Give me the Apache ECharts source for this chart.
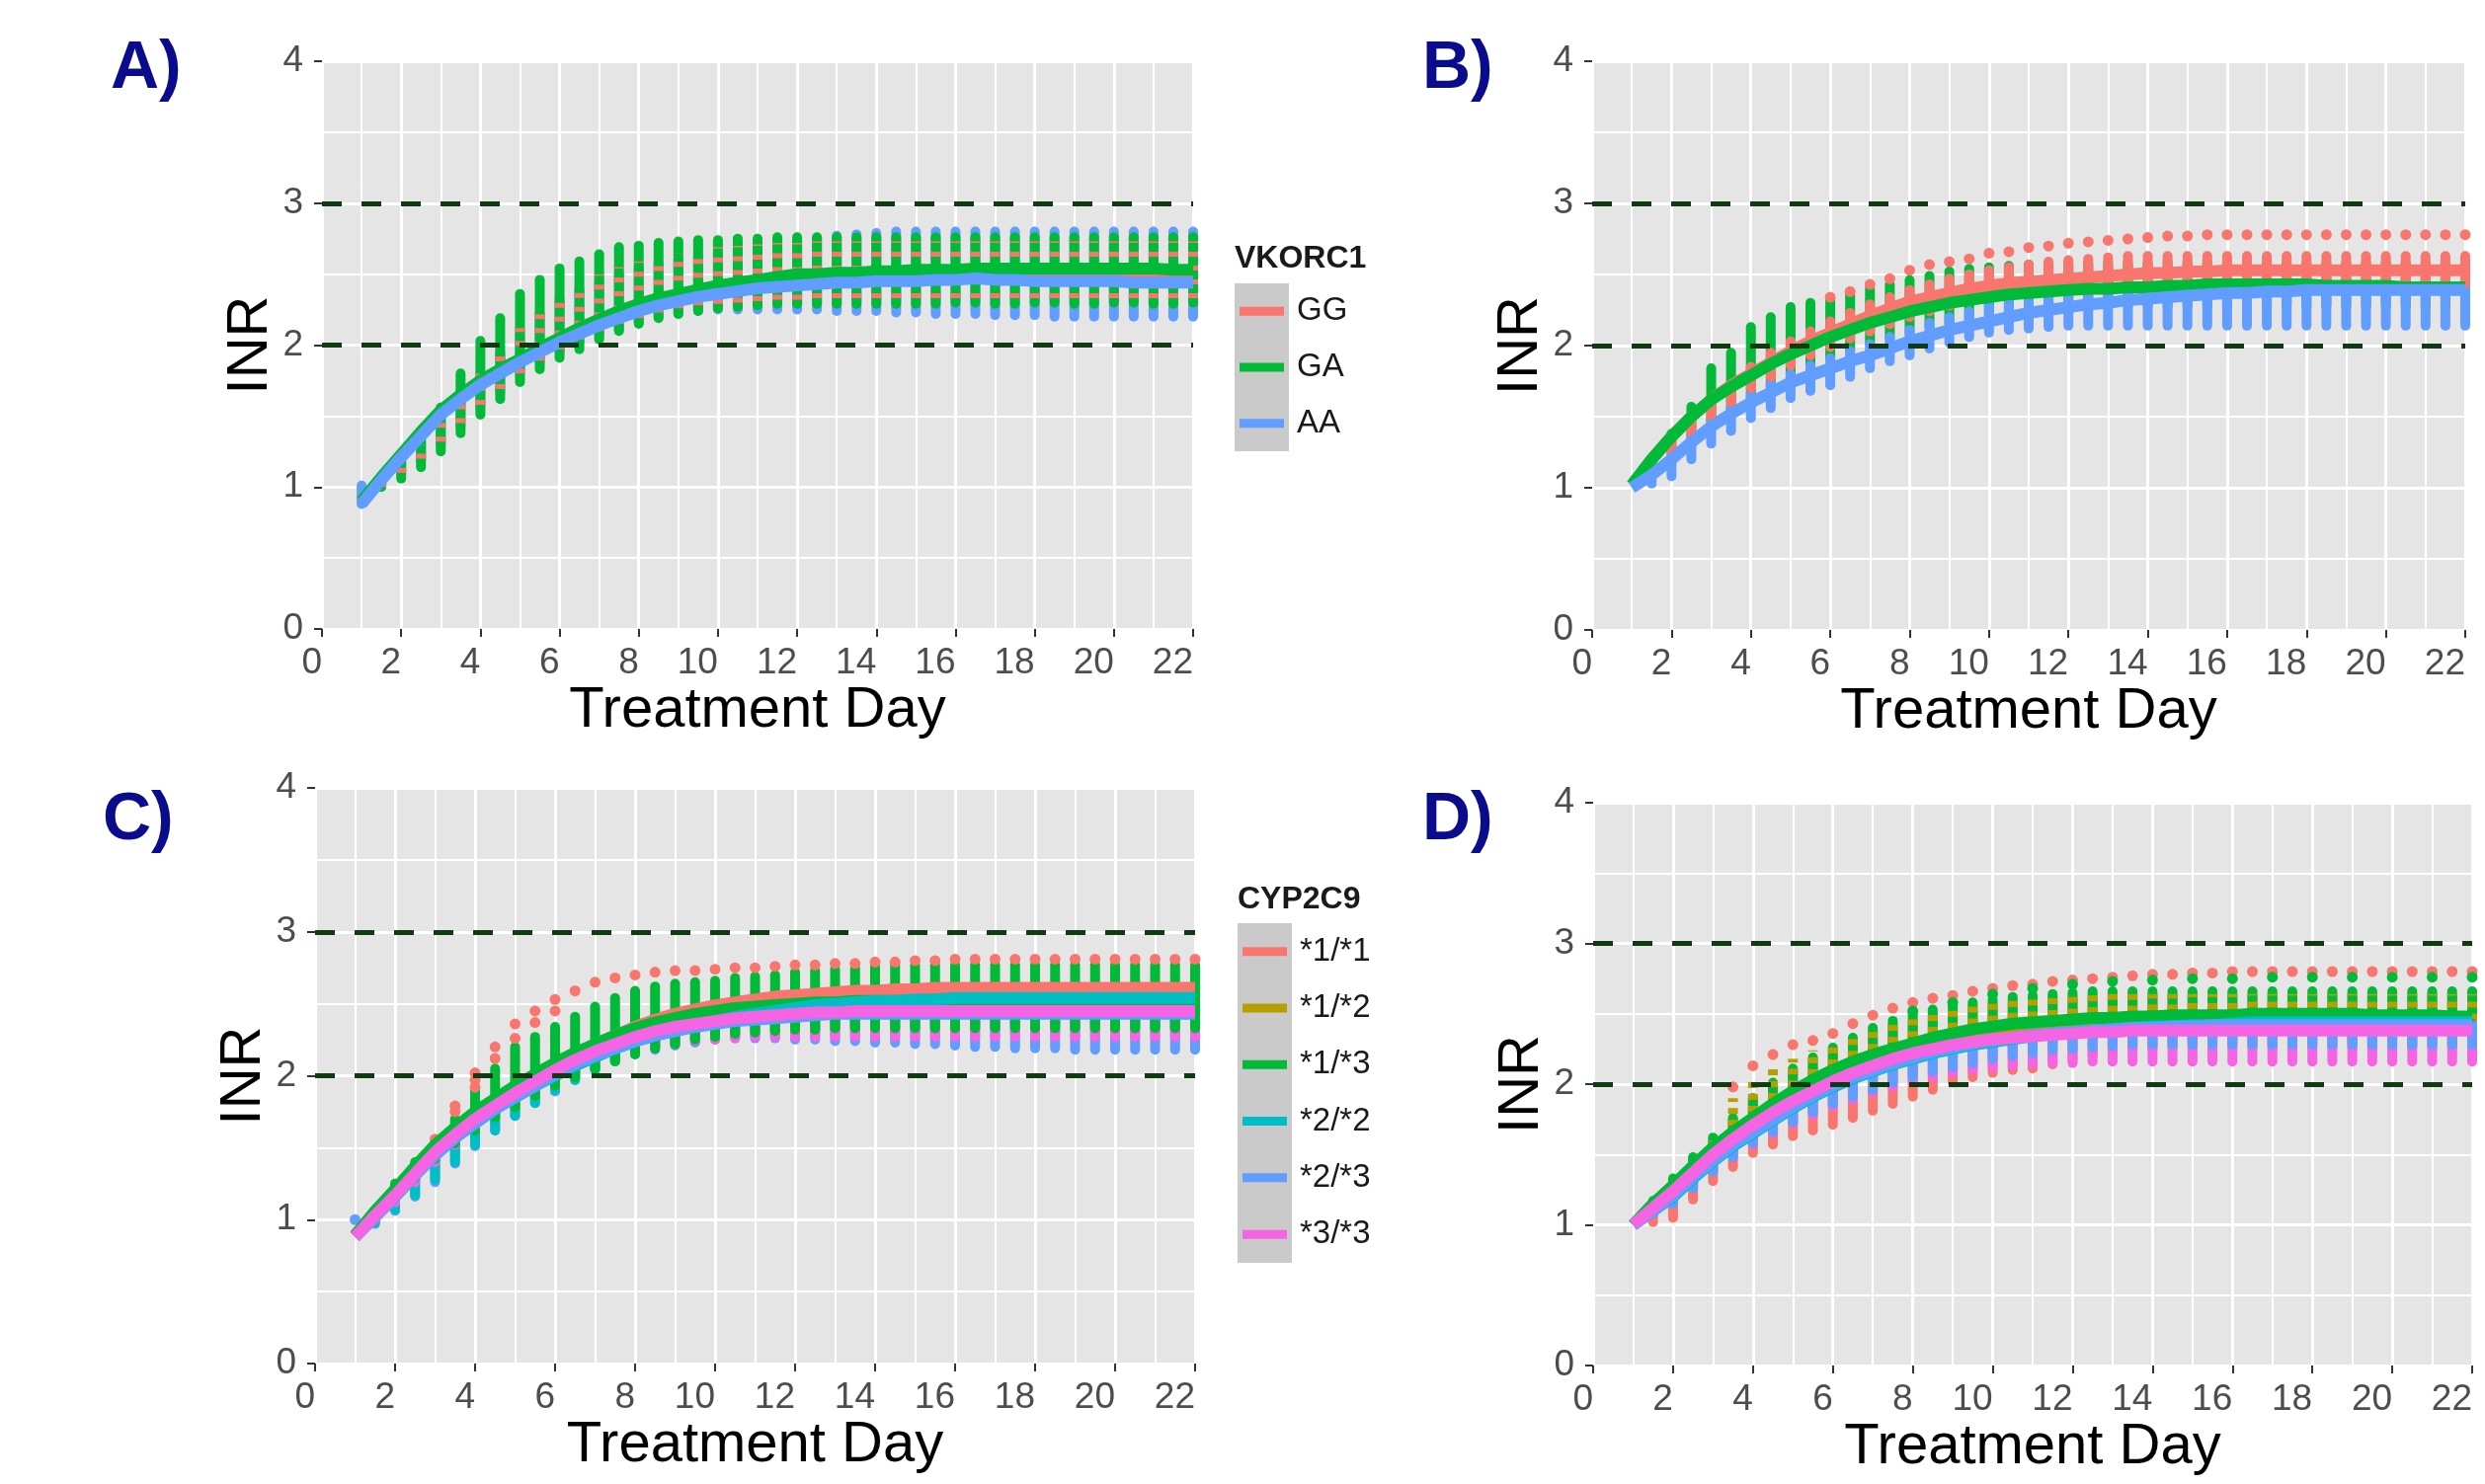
<!DOCTYPE html>
<html>
<head>
<meta charset="utf-8">
<title>Simulated INR by genotype</title>
<script src="https://cdn.jsdelivr.net/npm/echarts@6/dist/echarts.min.js"></script>
<style>
  html, body { margin: 0; padding: 0; background: #fff; }
  #chart { width: 2516px; height: 1503px; }
</style>
</head>
<body>
<div id="chart"></div>
<script>
// simulation time points (every half day)
const halfDays = [1,1.5,2,2.5,3,3.5,4,4.5,5,5.5,6,6.5,7,7.5,8,8.5,9,9.5,10,10.5,
  11,11.5,12,12.5,13,13.5,14,14.5,15,15.5,16,16.5,17,17.5,18,18.5,19,19.5,20,20.5,21,21.5,22];
const targetRange = [2, 3];

const vkNames = ['GG', 'GA', 'AA'];
const cypNames = ['*1/*1', '*1/*2', '*1/*3', '*2/*2', '*2/*3', '*3/*3'];
const vkColors = ['#F8766D', '#00BA38', '#619CFF'];
const cypColors = ['#F8766D', '#B79F00', '#00BA38', '#00BFC4', '#619CFF', '#F564E3'];

// ---- panel A : VKORC1, mean INR ----
const inrA_GG = [0.89,1.06,1.22,1.37,1.52,1.64,1.74,1.82,1.89,1.97,
  2.04,2.10,2.16,2.21,2.26,2.30,2.34,2.37,2.40,2.42,
  2.44,2.46,2.47,2.48,2.49,2.49,2.50,2.50,2.50,2.51,
  2.51,2.51,2.51,2.51,2.51,2.51,2.51,2.50,2.50,2.50,
  2.50,2.50,2.50];
const inrA_GA = [0.90,1.07,1.23,1.39,1.54,1.65,1.75,1.83,1.90,1.98,
  2.05,2.12,2.18,2.24,2.29,2.33,2.36,2.39,2.42,2.44,
  2.46,2.48,2.50,2.50,2.51,2.51,2.52,2.52,2.53,2.53,
  2.53,2.54,2.54,2.54,2.54,2.54,2.54,2.54,2.54,2.54,
  2.54,2.53,2.53];
const inrA_AA = [0.88,1.05,1.21,1.36,1.51,1.62,1.72,1.80,1.88,1.95,
  2.02,2.08,2.14,2.19,2.24,2.28,2.31,2.34,2.36,2.38,
  2.40,2.41,2.42,2.43,2.44,2.44,2.45,2.45,2.45,2.46,
  2.46,2.47,2.46,2.46,2.45,2.45,2.45,2.45,2.45,2.44,
  2.44,2.44,2.44];
// panel A : spread of simulated patients
const hiA_GG = [0.89,1.02,1.15,1.30,1.45,1.62,1.80,1.98,2.12,2.25,
  2.35,2.43,2.50,2.55,2.59,2.62,2.65,2.67,2.69,2.70,
  2.71,2.72,2.72,2.73,2.73,2.73,2.73,2.73,2.73,2.73,
  2.73,2.73,2.73,2.73,2.73,2.73,2.73,2.73,2.73,2.73,
  2.73,2.73,2.73];
const loA_GG = [0.89,1.00,1.10,1.20,1.32,1.45,1.58,1.69,1.80,1.89,
  1.97,2.04,2.10,2.15,2.19,2.23,2.26,2.28,2.29,2.30,
  2.31,2.32,2.32,2.33,2.33,2.33,2.33,2.33,2.33,2.33,
  2.33,2.33,2.33,2.33,2.33,2.33,2.33,2.33,2.33,2.33,
  2.33,2.33,2.33];
const hiA_GA = [0.90,1.05,1.22,1.38,1.56,1.80,2.03,2.19,2.36,2.46,
  2.54,2.59,2.64,2.69,2.70,2.72,2.73,2.74,2.74,2.75,
  2.75,2.76,2.76,2.76,2.76,2.76,2.76,2.76,2.76,2.76,
  2.76,2.76,2.76,2.76,2.76,2.76,2.76,2.76,2.76,2.76,
  2.76,2.76,2.76];
const loA_GA = [0.90,1.00,1.06,1.14,1.25,1.38,1.51,1.62,1.74,1.83,
  1.91,1.97,2.04,2.10,2.15,2.19,2.22,2.24,2.26,2.27,
  2.28,2.29,2.29,2.29,2.29,2.29,2.29,2.29,2.29,2.29,
  2.30,2.30,2.29,2.29,2.30,2.30,2.29,2.29,2.30,2.30,
  2.29,2.29,2.30];
const hiA_AA = [1.01,1.05,1.18,1.32,1.48,1.62,1.80,1.95,2.10,2.22,
  2.32,2.40,2.46,2.51,2.55,2.58,2.61,2.63,2.65,2.67,
  2.69,2.71,2.73,2.75,2.77,2.78,2.79,2.80,2.80,2.80,
  2.80,2.80,2.80,2.80,2.80,2.80,2.80,2.80,2.80,2.80,
  2.80,2.80,2.80];
const loA_AA = [0.88,1.02,1.10,1.19,1.30,1.43,1.56,1.67,1.79,1.88,
  1.96,2.02,2.07,2.11,2.16,2.20,2.22,2.24,2.25,2.25,
  2.25,2.25,2.25,2.25,2.24,2.24,2.24,2.23,2.23,2.22,
  2.22,2.22,2.21,2.21,2.21,2.20,2.20,2.20,2.20,2.20,
  2.20,2.20,2.20];

// ---- panel B : VKORC1 ----
const inrB_GG = [1.02,1.20,1.36,1.50,1.62,1.72,1.80,1.88,1.96,2.03,
  2.09,2.15,2.21,2.26,2.31,2.34,2.37,2.40,2.42,2.44,
  2.45,2.46,2.47,2.48,2.49,2.50,2.51,2.51,2.52,2.52,
  2.53,2.53,2.53,2.53,2.53,2.53,2.53,2.53,2.53,2.53,
  2.53,2.53,2.53];
const inrB_GA = [1.02,1.20,1.36,1.50,1.62,1.71,1.79,1.87,1.94,2.00,
  2.06,2.11,2.16,2.20,2.24,2.27,2.30,2.32,2.34,2.36,
  2.37,2.38,2.39,2.40,2.40,2.41,2.41,2.42,2.42,2.43,
  2.43,2.43,2.43,2.43,2.43,2.42,2.42,2.42,2.42,2.41,
  2.41,2.41,2.41];
const inrB_AA = [1.00,1.09,1.20,1.32,1.43,1.52,1.60,1.67,1.74,1.79,
  1.84,1.89,1.93,1.98,2.03,2.07,2.11,2.14,2.17,2.20,
  2.23,2.25,2.27,2.29,2.30,2.32,2.33,2.34,2.35,2.36,
  2.37,2.37,2.38,2.38,2.39,2.39,2.39,2.39,2.39,2.39,
  2.39,2.39,2.39];
const hiB_GG = [1.02,1.18,1.33,1.45,1.58,1.72,1.85,1.95,2.03,2.10,
  2.17,2.23,2.29,2.34,2.39,2.43,2.47,2.50,2.53,2.55,
  2.57,2.59,2.60,2.61,2.62,2.63,2.63,2.63,2.63,2.63,
  2.63,2.63,2.63,2.63,2.63,2.63,2.63,2.63,2.63,2.63,
  2.63,2.63,2.63];
const loB_GG = [1.02,1.12,1.25,1.38,1.50,1.60,1.70,1.78,1.86,1.93,
  1.99,2.05,2.10,2.15,2.20,2.24,2.28,2.31,2.34,2.36,
  2.38,2.40,2.41,2.42,2.43,2.44,2.44,2.44,2.44,2.44,
  2.44,2.44,2.44,2.44,2.44,2.44,2.44,2.44,2.44,2.44,
  2.44,2.44,2.44];
const hiB_GA = [1.02,1.20,1.38,1.57,1.84,1.95,2.13,2.20,2.27,2.30,
  2.33,2.36,2.40,2.43,2.46,2.49,2.52,2.54,2.55,2.56,
  2.57,2.57,2.58,2.58,2.58,2.58,2.58,2.58,2.58,2.58,
  2.58,2.58,2.58,2.58,2.58,2.58,2.58,2.58,2.58,2.58,
  2.58,2.58,2.58];
const loB_GA = [1.02,1.12,1.25,1.36,1.46,1.55,1.63,1.71,1.78,1.85,
  1.91,1.96,2.01,2.05,2.09,2.13,2.16,2.19,2.21,2.23,
  2.25,2.26,2.27,2.28,2.28,2.28,2.28,2.28,2.28,2.28,
  2.28,2.28,2.28,2.28,2.28,2.28,2.28,2.28,2.28,2.28,
  2.28,2.28,2.28];
const hiB_AA = [1.00,1.10,1.24,1.37,1.48,1.57,1.66,1.74,1.80,1.86,
  1.91,1.96,2.01,2.06,2.11,2.16,2.20,2.24,2.28,2.31,
  2.34,2.36,2.38,2.40,2.42,2.43,2.44,2.45,2.46,2.47,
  2.47,2.47,2.47,2.47,2.47,2.47,2.47,2.47,2.47,2.47,
  2.47,2.47,2.47];
const loB_AA = [1.00,1.03,1.08,1.20,1.31,1.40,1.49,1.56,1.63,1.68,
  1.72,1.78,1.84,1.89,1.93,1.98,2.02,2.06,2.09,2.11,
  2.12,2.13,2.14,2.14,2.14,2.14,2.14,2.14,2.14,2.14,
  2.14,2.14,2.14,2.14,2.14,2.14,2.14,2.14,2.14,2.14,
  2.14,2.14,2.14];
const outB_GG = [[6,2.34],[6.5,2.38],[7,2.43],[7.5,2.47],[8,2.53],[8.5,2.57],[9,2.59],[9.5,2.61],
  [10,2.65],[10.5,2.66],[11,2.69],[11.5,2.70],[12,2.72],[12.5,2.73],[13,2.74],[13.5,2.75],
  [14,2.76],[14.5,2.77],[15,2.77],[15.5,2.78],[16,2.78],[16.5,2.78],[17,2.78],[17.5,2.78],
  [18,2.78],[18.5,2.78],[19,2.78],[19.5,2.78],[20,2.78],[20.5,2.78],[21,2.78],[21.5,2.78],[22,2.78]];

// ---- panel C : CYP2C9 ----
const inrC_11 = [0.89,1.05,1.20,1.36,1.51,1.63,1.74,1.84,1.92,2.00,
  2.08,2.15,2.22,2.28,2.34,2.39,2.43,2.46,2.49,2.51,
  2.53,2.55,2.56,2.57,2.58,2.59,2.59,2.60,2.60,2.61,
  2.61,2.61,2.61,2.61,2.61,2.61,2.61,2.61,2.61,2.61,
  2.61,2.61,2.61];
const inrC_12 = [0.89,1.05,1.20,1.35,1.50,1.62,1.73,1.82,1.91,1.99,
  2.07,2.14,2.20,2.25,2.30,2.34,2.37,2.40,2.42,2.44,
  2.46,2.47,2.48,2.49,2.49,2.50,2.50,2.50,2.50,2.50,
  2.50,2.50,2.50,2.50,2.50,2.50,2.50,2.50,2.50,2.50,
  2.50,2.50,2.50];
const inrC_13 = [0.89,1.06,1.21,1.37,1.52,1.64,1.75,1.84,1.93,2.01,
  2.09,2.16,2.22,2.28,2.33,2.37,2.40,2.43,2.45,2.47,
  2.48,2.49,2.50,2.51,2.51,2.52,2.52,2.52,2.52,2.52,
  2.52,2.52,2.52,2.52,2.52,2.52,2.52,2.52,2.52,2.52,
  2.52,2.52,2.52];
const inrC_22 = [0.88,1.02,1.16,1.31,1.45,1.57,1.67,1.77,1.85,1.93,
  2.00,2.07,2.13,2.19,2.24,2.28,2.32,2.35,2.38,2.41,
  2.43,2.45,2.47,2.49,2.50,2.51,2.52,2.52,2.53,2.53,
  2.54,2.54,2.54,2.54,2.54,2.54,2.54,2.54,2.54,2.54,
  2.54,2.54,2.54];
const inrC_23 = [0.88,1.02,1.16,1.31,1.45,1.57,1.67,1.77,1.85,1.93,
  2.01,2.08,2.14,2.19,2.24,2.28,2.31,2.34,2.36,2.38,
  2.39,2.40,2.41,2.42,2.43,2.43,2.43,2.43,2.43,2.43,
  2.43,2.43,2.43,2.43,2.43,2.43,2.43,2.43,2.43,2.43,
  2.43,2.43,2.43];
const inrC_33 = [0.88,1.03,1.17,1.32,1.47,1.59,1.70,1.79,1.88,1.96,
  2.04,2.11,2.17,2.22,2.27,2.31,2.34,2.36,2.38,2.40,
  2.41,2.42,2.43,2.44,2.44,2.45,2.45,2.45,2.45,2.45,
  2.45,2.45,2.45,2.45,2.45,2.45,2.45,2.45,2.45,2.45,
  2.45,2.45,2.45];
const hiC_13 = [0.89,1.06,1.25,1.40,1.52,1.70,1.90,2.05,2.20,2.27,
  2.34,2.41,2.48,2.54,2.59,2.62,2.64,2.65,2.66,2.68,
  2.69,2.70,2.72,2.73,2.74,2.75,2.76,2.77,2.77,2.77,
  2.77,2.77,2.77,2.77,2.77,2.77,2.77,2.77,2.77,2.77,
  2.77,2.77,2.77];
const loC_13 = [0.89,1.02,1.15,1.29,1.42,1.53,1.62,1.71,1.78,1.86,
  1.93,1.99,2.05,2.10,2.15,2.19,2.22,2.25,2.27,2.29,
  2.30,2.31,2.32,2.32,2.33,2.33,2.33,2.33,2.33,2.33,
  2.33,2.33,2.33,2.33,2.33,2.33,2.33,2.33,2.33,2.33,
  2.33,2.33,2.33];
const loC_22 = [0.88,0.98,1.07,1.17,1.28,1.40,1.52,1.62,1.72,1.81,
  1.90,1.97,2.04,2.10,2.15,2.19,2.22,2.25,2.27,2.29,
  2.30,2.31,2.32,2.32,2.33,2.34,2.34,2.34,2.34,2.34,
  2.34,2.34,2.34,2.34,2.34,2.34,2.34,2.34,2.34,2.34,
  2.34,2.34,2.34];
const loC_23 = [0.88,0.97,1.06,1.16,1.26,1.39,1.51,1.62,1.72,1.81,
  1.89,1.97,2.04,2.10,2.15,2.18,2.21,2.23,2.25,2.26,
  2.26,2.26,2.25,2.25,2.24,2.24,2.23,2.23,2.22,2.22,
  2.21,2.20,2.20,2.19,2.19,2.19,2.18,2.18,2.18,2.18,
  2.18,2.18,2.18];
const loC_33 = [0.88,1.00,1.12,1.26,1.40,1.52,1.63,1.72,1.81,1.89,
  1.96,2.03,2.08,2.13,2.17,2.20,2.22,2.24,2.25,2.26,
  2.27,2.27,2.27,2.27,2.27,2.27,2.27,2.27,2.27,2.27,
  2.27,2.27,2.27,2.27,2.27,2.27,2.27,2.27,2.27,2.27,
  2.27,2.27,2.27];
const outC_11 = [[3,1.56],[3.5,1.79],[3.5,1.75],[4,2.02],[4,1.97],[4,1.92],[4.5,2.20],[4.5,2.12],
  [5,2.36],[5,2.26],[5.5,2.45],[5.5,2.37],[6,2.53],[6,2.45],[6.5,2.59],[7,2.65],[7.5,2.68],
  [8,2.70],[8.5,2.72],[9,2.73],[9.5,2.73],[10,2.74],[10.5,2.75],[11,2.75],[11.5,2.76],
  [12,2.77],[12.5,2.77],[13,2.78],[13.5,2.78],[14,2.79],[14.5,2.79],[15,2.80],[15.5,2.80],
  [16,2.81],[16.5,2.81],[17,2.81],[17.5,2.81],[18,2.81],[18.5,2.81],[19,2.81],[19.5,2.81],
  [20,2.81],[20.5,2.81],[21,2.81],[21.5,2.81],[22,2.81]];
const outC_23 = [[1,1.00]];

// ---- panel D : CYP2C9 ----
const inrD_11 = [1.00,1.12,1.23,1.36,1.48,1.59,1.69,1.78,1.86,1.94,
  2.01,2.07,2.13,2.18,2.23,2.27,2.30,2.33,2.35,2.37,
  2.38,2.39,2.40,2.41,2.42,2.42,2.43,2.43,2.44,2.44,
  2.44,2.45,2.45,2.45,2.45,2.45,2.45,2.45,2.45,2.45,
  2.45,2.45,2.45];
const inrD_12 = [1.00,1.13,1.25,1.38,1.51,1.62,1.72,1.81,1.90,1.98,
  2.05,2.11,2.16,2.21,2.25,2.28,2.31,2.34,2.36,2.38,
  2.39,2.40,2.41,2.42,2.43,2.43,2.44,2.44,2.45,2.45,
  2.45,2.46,2.46,2.46,2.46,2.46,2.46,2.46,2.46,2.46,
  2.46,2.46,2.46];
const inrD_13 = [1.00,1.15,1.28,1.42,1.55,1.66,1.76,1.86,1.95,2.03,
  2.10,2.16,2.21,2.25,2.29,2.33,2.36,2.39,2.41,2.43,
  2.44,2.45,2.46,2.47,2.47,2.48,2.48,2.49,2.49,2.49,
  2.49,2.50,2.50,2.50,2.50,2.50,2.50,2.49,2.49,2.49,
  2.49,2.48,2.48];
const inrD_22 = [1.00,1.10,1.20,1.33,1.45,1.56,1.65,1.74,1.83,1.91,
  1.98,2.04,2.09,2.14,2.18,2.22,2.25,2.28,2.30,2.32,
  2.34,2.36,2.37,2.38,2.39,2.40,2.41,2.41,2.42,2.42,
  2.43,2.44,2.44,2.44,2.44,2.44,2.44,2.44,2.44,2.44,
  2.44,2.44,2.44];
const inrD_23 = [1.00,1.10,1.21,1.34,1.46,1.57,1.66,1.75,1.84,1.92,
  1.99,2.05,2.10,2.15,2.19,2.23,2.26,2.29,2.31,2.33,
  2.35,2.36,2.37,2.38,2.39,2.40,2.40,2.41,2.41,2.42,
  2.42,2.42,2.42,2.42,2.42,2.42,2.42,2.42,2.42,2.42,
  2.42,2.42,2.42];
const inrD_33 = [1.00,1.12,1.24,1.37,1.50,1.61,1.71,1.80,1.88,1.95,
  2.02,2.08,2.13,2.18,2.22,2.25,2.28,2.30,2.32,2.33,
  2.34,2.35,2.36,2.37,2.37,2.38,2.38,2.38,2.38,2.38,
  2.38,2.38,2.38,2.38,2.38,2.38,2.38,2.38,2.38,2.38,
  2.38,2.38,2.38];
const hiD_11 = [1.00,1.15,1.30,1.45,1.58,1.75,1.90,2.00,2.08,2.14,
  2.20,2.26,2.32,2.37,2.41,2.45,2.48,2.51,2.53,2.55,
  2.57,2.58,2.59,2.60,2.61,2.62,2.63,2.63,2.63,2.63,
  2.63,2.63,2.63,2.63,2.63,2.63,2.63,2.63,2.63,2.63,
  2.63,2.63,2.63];
const loD_11 = [1.00,1.02,1.05,1.18,1.31,1.41,1.51,1.57,1.63,1.67,
  1.71,1.76,1.81,1.86,1.91,1.96,2.01,2.05,2.08,2.10,
  2.11,2.14,2.17,2.20,2.22,2.24,2.25,2.26,2.26,2.26,
  2.26,2.26,2.26,2.26,2.26,2.26,2.26,2.26,2.26,2.26,
  2.26,2.26,2.26];
const hiD_12 = [1.00,1.15,1.30,1.46,1.60,1.90,2.05,2.12,2.18,2.24,
  2.29,2.34,2.39,2.44,2.48,2.51,2.54,2.56,2.58,2.60,
  2.61,2.62,2.63,2.64,2.64,2.64,2.64,2.64,2.64,2.64,
  2.64,2.64,2.64,2.64,2.64,2.64,2.64,2.64,2.64,2.64,
  2.64,2.64,2.64];
const hiD_13 = [1.00,1.17,1.33,1.48,1.62,1.76,1.90,2.01,2.11,2.19,
  2.26,2.33,2.40,2.45,2.50,2.53,2.56,2.58,2.60,2.62,
  2.63,2.64,2.65,2.66,2.66,2.66,2.66,2.66,2.66,2.66,
  2.66,2.66,2.66,2.66,2.66,2.66,2.66,2.66,2.66,2.66,
  2.66,2.66,2.66];
const loD_23 = [1.00,1.08,1.15,1.26,1.38,1.48,1.58,1.66,1.73,1.80,
  1.86,1.91,1.96,2.01,2.05,2.09,2.12,2.15,2.18,2.20,
  2.22,2.24,2.25,2.26,2.27,2.28,2.28,2.28,2.28,2.28,
  2.28,2.28,2.28,2.28,2.28,2.28,2.28,2.28,2.28,2.28,
  2.28,2.28,2.28];
const loD_33 = [1.00,1.08,1.16,1.27,1.38,1.48,1.57,1.65,1.72,1.78,
  1.84,1.89,1.94,1.98,2.02,2.05,2.08,2.10,2.12,2.13,
  2.14,2.15,2.15,2.16,2.16,2.16,2.16,2.16,2.16,2.16,
  2.16,2.16,2.16,2.16,2.16,2.16,2.16,2.16,2.16,2.16,
  2.16,2.16,2.16];
const outD_11 = [[3,1.56],[3.5,1.98],[4,2.13],[4.5,2.21],[5,2.28],[5.5,2.31],[6,2.36],[6.5,2.43],
  [7,2.49],[7.5,2.54],[8,2.58],[8.5,2.61],[9,2.63],[9.5,2.66],[10,2.68],[10.5,2.70],[11,2.71],
  [11.5,2.73],[12,2.74],[12.5,2.75],[13,2.76],[13.5,2.77],[14,2.78],[14.5,2.78],[15,2.79],
  [15.5,2.79],[16,2.80],[16.5,2.80],[17,2.80],[17.5,2.80],[18,2.80],[18.5,2.80],[19,2.80],
  [19.5,2.80],[20,2.80],[20.5,2.80],[21,2.80],[21.5,2.80],[22,2.80]];
const outD_13 = [[8,2.52],[9,2.58],[10,2.64],[11,2.68],[12,2.71],[13,2.73],[14,2.74],[15,2.75],
  [16,2.75],[17,2.76],[18,2.76],[19,2.76],[20,2.76],[21,2.76],[22,2.76]];

// panel set-up: which group draws which column, in drawing order
const panels = [
  { label: 'A)', names: vkNames, colors: vkColors, lines: [inrA_GG, inrA_GA, inrA_AA],
    grid: { left: 326, top: 62, width: 882, height: 575 }, labelPos: [112, 36],
    cols: [{ g: 2, lo: loA_AA, hi: hiA_AA }, { g: 1, lo: loA_GA, hi: hiA_GA },
           { g: 0, lo: loA_GG, hi: hiA_GG, dash: [5, 9] }],
    outs: [] },
  { label: 'B)', names: vkNames, colors: vkColors, lines: [inrB_GG, inrB_GA, inrB_AA],
    grid: { left: 1612, top: 62, width: 884, height: 576 }, labelPos: [1440, 36],
    cols: [{ g: 1, lo: loB_GA, hi: hiB_GA }, { g: 2, lo: loB_AA, hi: hiB_AA },
           { g: 0, lo: loB_GG, hi: hiB_GG }],
    outs: [{ g: 0, pts: outB_GG }] },
  { label: 'C)', names: cypNames, colors: cypColors,
    lines: [inrC_11, inrC_12, inrC_13, inrC_22, inrC_23, inrC_33],
    grid: { left: 319, top: 798, width: 891, height: 583 }, labelPos: [104, 797],
    cols: [{ g: 4, lo: loC_23, hi: inrC_23 }, { g: 3, lo: loC_22, hi: inrC_22 },
           { g: 5, lo: loC_33, hi: inrC_33 }, { g: 2, lo: loC_13, hi: hiC_13 }],
    outs: [{ g: 0, pts: outC_11 }, { g: 4, pts: outC_23 }] },
  { label: 'D)', names: cypNames, colors: cypColors,
    lines: [inrD_11, inrD_12, inrD_13, inrD_22, inrD_23, inrD_33],
    grid: { left: 1613, top: 813, width: 890, height: 570 }, labelPos: [1440, 797],
    cols: [{ g: 0, lo: loD_11, hi: hiD_11 }, { g: 5, lo: loD_33, hi: inrD_33 },
           { g: 4, lo: loD_23, hi: inrD_23 }, { g: 2, lo: inrD_13, hi: hiD_13 },
           { g: 1, lo: inrD_12, hi: hiD_12, dash: [6, 6] }],
    outs: [{ g: 0, pts: outD_11 }, { g: 2, pts: outD_13 }] }
];

const FONT = "'Liberation Sans', Arial, Helvetica, sans-serif";

function columnItem(color, dash) {
  return function (params, api) {
    const a = api.coord([api.value(0), api.value(1)]);
    const b = api.coord([api.value(0), api.value(2)]);
    return {
      type: 'line',
      shape: { x1: a[0], y1: a[1], x2: b[0], y2: b[1] },
      style: { stroke: color, lineWidth: 10, lineCap: dash ? 'butt' : 'round', lineDash: dash || null }
    };
  };
}

const grids = [], xAxes = [], yAxes = [], series = [], titles = [];

panels.forEach((p, k) => {
  grids.push(Object.assign({ show: true, backgroundColor: '#E5E5E5', borderWidth: 0,
    containLabel: false, outerBoundsMode: 'none' }, p.grid));

  xAxes.push({
    gridIndex: k, type: 'value', min: 0, max: 22, interval: 2,
    name: 'Treatment Day', nameLocation: 'middle', nameGap: 50,
    nameTextStyle: { fontSize: 58, color: '#000', fontFamily: FONT },
    axisLine: { show: false },
    axisTick: { show: true, length: 8, lineStyle: { color: '#333', width: 2 } },
    axisLabel: { fontSize: 37, color: '#4D4D4D', margin: 16, align: 'right', fontFamily: FONT },
    splitLine: { show: true, lineStyle: { color: '#fff', width: 3 } },
    minorTick: { show: false, splitNumber: 2 },
    minorSplitLine: { show: true, lineStyle: { color: '#fff', width: 2 } }
  });
  yAxes.push({
    gridIndex: k, type: 'value', min: 0, max: 4, interval: 1,
    name: 'INR', nameLocation: 'middle', nameRotate: 90, nameGap: 42,
    nameTextStyle: { fontSize: 58, color: '#000', fontFamily: FONT },
    axisLine: { show: false },
    axisTick: { show: true, length: 8, lineStyle: { color: '#333', width: 2 } },
    axisLabel: { fontSize: 37, color: '#4D4D4D', margin: 19, fontFamily: FONT },
    splitLine: { show: true, lineStyle: { color: '#fff', width: 3 } },
    minorTick: { show: false, splitNumber: 2 },
    minorSplitLine: { show: true, lineStyle: { color: '#fff', width: 2 } }
  });

  // simulated patients: one column per time point and genotype
  p.cols.forEach(c => {
    series.push({
      type: 'custom', name: p.names[c.g] + ' sim', xAxisIndex: k, yAxisIndex: k, z: 2,
      silent: true, animation: false,
      renderItem: columnItem(p.colors[c.g], c.dash),
      encode: { x: 0, y: [1, 2] },
      data: halfDays.map((d, i) => [d, c.lo[i], c.hi[i]])
    });
  });
  p.outs.forEach(o => {
    series.push({
      type: 'scatter', name: p.names[o.g] + ' out', xAxisIndex: k, yAxisIndex: k, z: 2,
      silent: true, symbolSize: 11, itemStyle: { color: p.colors[o.g], opacity: 1 },
      data: o.pts
    });
  });

  // therapeutic range
  series.push({
    type: 'line', name: 'range' + k, xAxisIndex: k, yAxisIndex: k, z: 3, data: [],
    markLine: {
      silent: true, symbol: 'none', animation: false,
      label: { show: false },
      lineStyle: { color: '#0F3A12', width: 5, type: [20, 20] },
      data: targetRange.map(v => ({ yAxis: v }))
    }
  });

  // mean INR curves
  p.lines.forEach((ln, g) => {
    series.push({
      type: 'line', name: p.names[g], xAxisIndex: k, yAxisIndex: k, z: 4,
      showSymbol: false, silent: true,
      lineStyle: { width: 12, color: p.colors[g] },
      itemStyle: { color: p.colors[g] },
      data: halfDays.map((d, i) => [d, ln[i]])
    });
  });

  titles.push({
    text: p.label, left: p.labelPos[0], top: p.labelPos[1], padding: 0,
    textStyle: { fontSize: 68, fontWeight: 'bold', color: '#0B0B8E', fontFamily: FONT }
  });
});

titles.push({ text: 'VKORC1', left: 1250, top: 246, padding: 0,
  textStyle: { fontSize: 32, fontWeight: 'bold', color: '#1A1A1A', fontFamily: FONT } });
titles.push({ text: 'CYP2C9', left: 1253, top: 895, padding: 0,
  textStyle: { fontSize: 32, fontWeight: 'bold', color: '#1A1A1A', fontFamily: FONT } });

const legendBase = {
  orient: 'vertical', icon: 'rect', itemWidth: 45, itemHeight: 9, itemGap: 0,
  padding: 0, selectedMode: false, z: 10,
  itemStyle: { borderWidth: 0 },
  textStyle: { fontSize: 33, color: '#1A1A1A', fontFamily: FONT, padding: [0, 0, 0, 8] }
};

const option = {
  animation: false,
  backgroundColor: '#fff',
  textStyle: { fontFamily: FONT },
  title: titles,
  grid: grids,
  xAxis: xAxes,
  yAxis: yAxes,
  legend: [
    Object.assign({}, legendBase, { data: vkNames, left: 1255, top: 287,
      textStyle: Object.assign({}, legendBase.textStyle, { lineHeight: 56.7 }) }),
    Object.assign({}, legendBase, { data: cypNames, left: 1258, top: 935,
      textStyle: Object.assign({}, legendBase.textStyle, { lineHeight: 57.3 }) })
  ],
  graphic: [
    { type: 'rect', z: 1, shape: { x: 1250, y: 287, width: 55, height: 170 }, style: { fill: '#CACACA' } },
    { type: 'rect', z: 1, shape: { x: 1253, y: 935, width: 55, height: 344 }, style: { fill: '#CACACA' } }
  ],
  series: series
};

const chart = echarts.init(document.getElementById('chart'));
chart.setOption(option);
</script>
</body>
</html>
